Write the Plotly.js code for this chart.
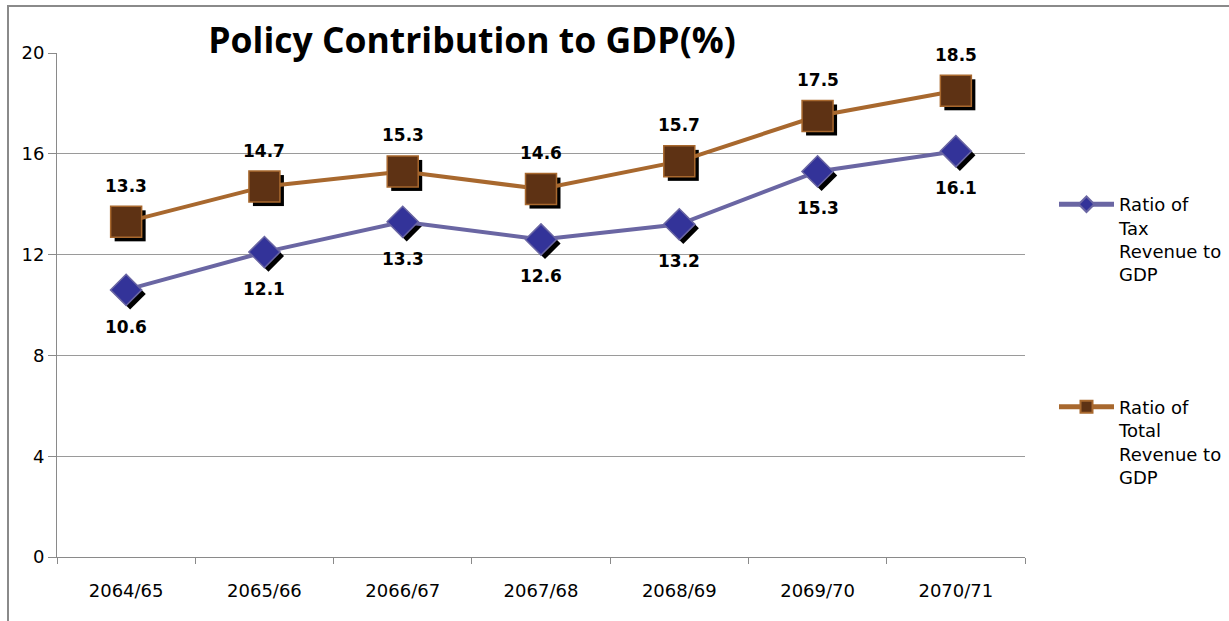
<!DOCTYPE html>
<html>
<head>
<meta charset="utf-8">
<script src="https://cdn.plot.ly/plotly-3.0.1.min.js"></script>
<style>
  html, body { margin: 0; padding: 0; background: #fff; }
  #wrap { position: relative; width: 1229px; height: 621px; overflow: hidden; }
  #chart { position: absolute; left: 0; top: 0; width: 1229px; height: 621px; }
  #frame { position: absolute; left: 7px; top: 5px; width: 1240px; height: 640px;
           border-left: 2px solid #8a8a8a; border-top: 2px solid #8a8a8a; pointer-events: none; }
</style>
</head>
<body>
<div id="wrap">
  <div id="chart"></div>
  <div id="frame"></div>
</div>
<script>
// ---- data ----
const categories = ["2064/65", "2065/66", "2066/67", "2067/68", "2068/69", "2069/70", "2070/71"];
const taxRevenueRatio = [10.6, 12.1, 13.3, 12.6, 13.2, 15.3, 16.1];
const totalRevenueRatio = [13.3, 14.7, 15.3, 14.6, 15.7, 17.5, 18.5];
const seriesNames = ["Ratio of<br>Tax<br>Revenue to<br>GDP", "Ratio of<br>Total<br>Revenue to<br>GDP"];
const yTicks = [0, 4, 8, 12, 16, 20];

// ---- geometry helpers (pixel shadow offset via shifted hidden axes) ----
const W = 1229, H = 621;
const margin = { l: 57, r: 204, t: 53, b: 64 };
const plotW = W - margin.l - margin.r;
const plotH = H - margin.t - margin.b;
const shadowPx = 4;
const nCat = categories.length;
const dx = shadowPx * nCat / plotW;
const dy = shadowPx * 20 / plotH;

const labelFont = { family: "DejaVu Sans", size: 17, color: "#000" };
const tickFont = { family: "DejaVu Sans", size: 18, color: "#000" };

const traces = [
  // shadows (on hidden base axes)
  { x: categories, y: taxRevenueRatio, xaxis: "x", yaxis: "y", mode: "markers", showlegend: false, hoverinfo: "skip",
    marker: { symbol: "diamond", size: 24, color: "#000" } },
  { x: categories, y: totalRevenueRatio, xaxis: "x", yaxis: "y", mode: "markers", showlegend: false, hoverinfo: "skip",
    marker: { symbol: "square", size: 31, color: "#000" } },
  // real series
  { x: categories, y: taxRevenueRatio, xaxis: "x2", yaxis: "y2", name: seriesNames[0], legendgroup: "a",
    mode: "lines+markers",
    line: { color: "#6A66A3", width: 4 },
    marker: { symbol: "diamond", size: 24, color: "#333399", line: { color: "#6A66A3", width: 1.5 } } },
  { x: categories, y: totalRevenueRatio, xaxis: "x2", yaxis: "y2", name: seriesNames[1], legendgroup: "b",
    mode: "lines+markers",
    line: { color: "#A8682E", width: 4 },
    marker: { symbol: "square", size: 31, color: "#5E3214", line: { color: "#A8682E", width: 1.5 } } }
];

const annotations = [];
categories.forEach((c, i) => {
  annotations.push({ xref: "x2", yref: "y2", x: c, y: taxRevenueRatio[i], text: "<b>" + taxRevenueRatio[i].toFixed(1) + "</b>",
    showarrow: false, yshift: -37, font: labelFont, xanchor: "center", yanchor: "middle" });
  annotations.push({ xref: "x2", yref: "y2", x: c, y: totalRevenueRatio[i], text: "<b>" + totalRevenueRatio[i].toFixed(1) + "</b>",
    showarrow: false, yshift: 36, font: labelFont, xanchor: "center", yanchor: "middle" });
});

const layout = {
  width: W, height: H,
  margin: margin,
  paper_bgcolor: "#fff", plot_bgcolor: "rgba(0,0,0,0)",
  title: { text: "<b>Policy Contribution to GDP(%)</b>", font: { family: "Open Sans", size: 35.5, color: "#000" },
           x: 472 / W, xanchor: "center", xref: "container", y: 1 - 41 / H, yanchor: "middle", yref: "container" },
  xaxis: { type: "category", range: [-0.5 - dx, nCat - 0.5 - dx], showgrid: false, showline: false,
           showticklabels: false, ticks: "", zeroline: false, fixedrange: true },
  yaxis: { range: [0 + dy, 20 + dy], showgrid: false, showline: false, showticklabels: false,
           ticks: "", zeroline: false, fixedrange: true },
  xaxis2: { type: "category", overlaying: "x", side: "bottom", range: [-0.5, nCat - 0.5],
            showgrid: false, showline: true, linecolor: "#8a8a8a", linewidth: 1,
            ticks: "outside", tickson: "boundaries", ticklen: 6, tickcolor: "#8a8a8a",
            ticklabelstandoff: 17, tickfont: tickFont, zeroline: false },
  yaxis2: { overlaying: "y", side: "left", range: [0, 20], tickvals: yTicks, ticktext: yTicks.map(String),
            showgrid: true, gridcolor: "#9a9a9a", gridwidth: 1,
            showline: true, linecolor: "#8a8a8a", linewidth: 1,
            ticks: "outside", ticklen: 8, tickcolor: "#8a8a8a",
            tickfont: tickFont, zeroline: false },
  annotations: annotations,
  showlegend: true,
  legend: { xref: "container", yref: "container", x: 1054 / W, xanchor: "left", y: 1 - 186 / H, yanchor: "top",
            valign: "top", itemwidth: 55, itemsizing: "constant", tracegroupgap: 106, traceorder: "grouped",
            font: { family: "DejaVu Sans", size: 18, color: "#000" }, bgcolor: "rgba(0,0,0,0)" }
};

Plotly.newPlot("chart", traces, layout, { displayModeBar: false, staticPlot: true });
</script>
</body>
</html>
